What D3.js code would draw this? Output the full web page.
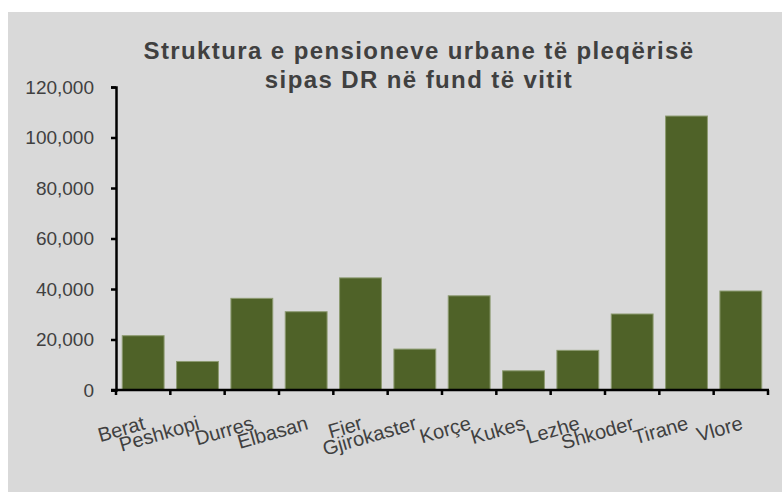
<!DOCTYPE html>
<html>
<head>
<meta charset="utf-8">
<script src="https://cdn.jsdelivr.net/npm/d3@7"></script>
<style>
  body { margin: 0; background: #fff; }
  svg { display: block; font-family: "Liberation Sans", Arial, sans-serif; }
</style>
</head>
<body>
<svg width="782" height="492"></svg>
<script>
// Data
const districts = ["Berat", "Peshkopi", "Durres", "Elbasan", "Fier", "Gjirokaster",
    "Korçe", "Kukes", "Lezhe", "Shkoder", "Tirane", "Vlore"];
const pensions = [21500, 11300, 36300, 31000, 44400, 16200,
    37300, 7600, 15700, 30100, 108500, 39200];
const yTicks = [0, 20000, 40000, 60000, 80000, 100000, 120000];
const titleLines = ["Struktura e pensioneve urbane të pleqërisë", "sipas DR në fund të vitit"];

const svg = d3.select("svg");
const textColor = "#404040";

// chart area background
svg.append("rect")
    .attr("x", 8).attr("y", 12)
    .attr("width", 774).attr("height", 480)
    .attr("fill", "#d9d9d9");

const plot = {left: 116, right: 768, top: 87, bottom: 390};

const x = d3.scaleBand()
    .domain(districts)
    .range([plot.left, plot.right])
    .paddingInner(0.23)
    .paddingOuter(0.115);

const y = d3.scaleLinear()
    .domain([0, 120000])
    .range([plot.bottom, plot.top]);

// bars
svg.append("g")
    .selectAll("rect")
    .data(districts)
    .enter()
    .append("rect")
    .attr("x", d => x(d))
    .attr("y", (d, i) => y(pensions[i]))
    .attr("width", x.bandwidth())
    .attr("height", (d, i) => y(0) - y(pensions[i]))
    .attr("fill", "#4f6228")
    .attr("stroke", "#8c9a70")
    .attr("stroke-width", 1);

// y axis
const yAxis = svg.append("g")
    .attr("transform", `translate(${plot.left},0)`)
    .call(d3.axisLeft(y).tickValues(yTicks).tickSize(5).tickPadding(17).tickFormat(d3.format(",")));
yAxis.select(".domain").attr("stroke", "#000").attr("stroke-width", 2.5);
yAxis.selectAll(".tick line").attr("stroke", "#000").attr("stroke-width", 2.5);
yAxis.selectAll(".tick text")
    .attr("fill", textColor)
    .style("font-size", "19px")
    .style("font-family", "'Liberation Sans', Arial, sans-serif");

// x axis line + ticks at category boundaries
const xAxis = svg.append("g");
xAxis.append("line")
    .attr("x1", plot.left - 5).attr("x2", plot.right + 1)
    .attr("y1", plot.bottom).attr("y2", plot.bottom)
    .attr("stroke", "#000").attr("stroke-width", 2.5);
const bounds = districts.map(d => x(d) - x.step() * x.paddingInner() / 2).concat([plot.right]);
xAxis.selectAll(".xt")
    .data(bounds)
    .enter()
    .append("line")
    .attr("x1", d => d).attr("x2", d => d)
    .attr("y1", plot.bottom).attr("y2", plot.bottom + 5)
    .attr("stroke", "#000").attr("stroke-width", 2.5);

// rotated category labels, end anchored under each bar
svg.append("g")
    .selectAll("text")
    .data(districts)
    .enter()
    .append("text")
    .attr("transform", d => `translate(${x(d) + x.bandwidth() / 2 + 3},${plot.bottom + 39}) rotate(-16)`)
    .attr("text-anchor", "end")
    .attr("fill", textColor)
    .style("font-size", "20px")
    .text(d => d);

// title
svg.append("g")
    .selectAll("text")
    .data(titleLines)
    .enter()
    .append("text")
    .attr("x", 419)
    .attr("y", (d, i) => 59 + i * 28.5)
    .attr("text-anchor", "middle")
    .attr("fill", textColor)
    .style("font-size", "24px")
    .style("font-weight", "bold")
    .style("letter-spacing", "1.4px")
    .text(d => d);
</script>
</body>
</html>
